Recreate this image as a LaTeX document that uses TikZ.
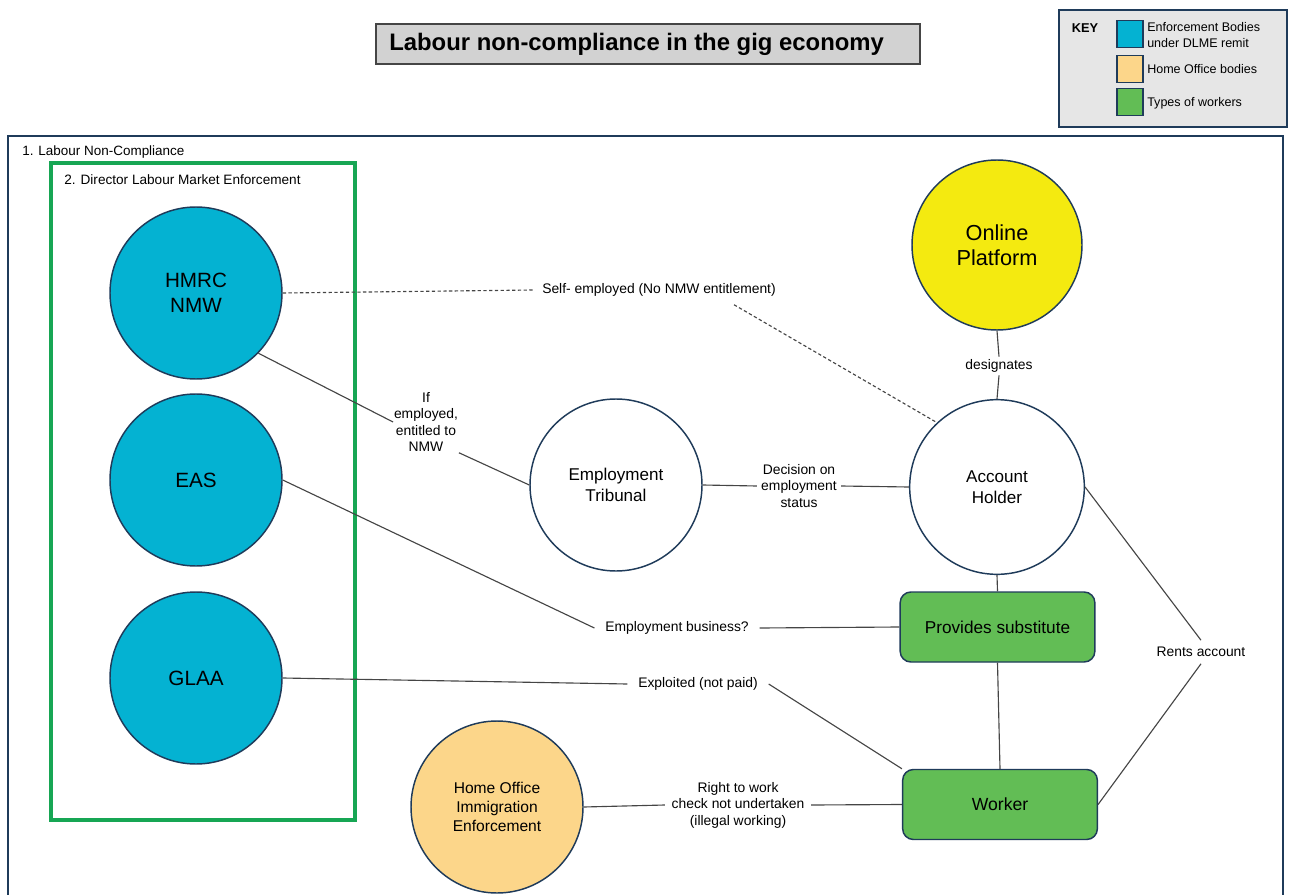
\documentclass[tikz,border=0pt]{standalone}
\usepackage{fontspec}
\setmainfont{Liberation Sans}
\usetikzlibrary{calc}
\definecolor{navy}{HTML}{1F3B5A}
\definecolor{cyanc}{HTML}{04B2D2}
\definecolor{yelc}{HTML}{F4EA10}
\definecolor{orac}{HTML}{FCD68A}
\definecolor{grnc}{HTML}{62BD55}
\definecolor{frameg}{HTML}{17A654}
\definecolor{linegray}{HTML}{454545}
\definecolor{titlegray}{HTML}{D2D2D2}
\definecolor{keygray}{HTML}{E6E6E6}
\begin{document}
\begin{tikzpicture}[x=0.75pt,y=-0.75pt,
  circ/.style={circle, draw=navy, line width=1.1pt, minimum size=129pt, inner sep=0pt, align=center},
  bigtxt/.style={font=\fontsize{15.5}{18.7}\selectfont},
  midtxt/.style={font=\fontsize{12.8}{15.7}\selectfont},
  wbox/.style={rectangle, rounded corners=8pt, draw=navy, line width=1.1pt, fill=grnc, minimum width=146pt, minimum height=52.5pt, align=center},
  lbl/.style={align=center, inner sep=3pt, font=\fontsize{10.4}{12.4}\selectfont},
  conn/.style={draw=linegray, line width=0.85pt},
  dconn/.style={conn, dash pattern=on 2.5pt off 1.8pt},
  swatch/.style={rectangle, draw=navy, line width=1pt, minimum width=19.5pt, minimum height=20pt, inner sep=0pt},
  keytxt/.style={anchor=west, align=left, inner sep=0pt, font=\fontsize{9.4}{12}\selectfont}
]
\useasboundingbox (0,0) rectangle (1289,895);

% title
\node[draw=linegray, line width=0.8pt, fill=titlegray, minimum width=408pt, minimum height=30pt, inner sep=0pt] (titlebox) at (648,44) {};
\node[anchor=west, inner sep=0pt, font=\bfseries\fontsize{17.9}{20}\selectfont] (title) at (389,44) {Labour non-compliance in the gig economy};

% key
\node[draw=navy, line width=1.3pt, fill=keygray, minimum width=171pt, minimum height=87.5pt, inner sep=0pt] (keybox) at (1173,68.5) {};
\node[font=\bfseries\fontsize{9.6}{11}\selectfont, inner sep=0pt] (keylbl) at (1085,28) {KEY};
\node[swatch, fill=cyanc] (k1) at (1130,34) {};
\node[swatch, fill=orac] (k2) at (1130,69) {};
\node[swatch, fill=grnc] (k3) at (1130,102) {};
\node[keytxt] (k1t) at (1147,35) {Enforcement Bodies\\under DLME remit};
\node[keytxt] (k2t) at (1147,69) {Home Office bodies};
\node[keytxt] (k3t) at (1147,103) {Types of workers};

% outer frame
\draw[navy, line width=1.3pt] (8,900) -- (8,136) -- (1283,136) -- (1283,900);
\node[anchor=west, inner sep=0pt, font=\fontsize{10.1}{12}\selectfont] (lnc) at (22,152) {1. Labour Non-Compliance};

% DLME frame
\draw[frameg, line width=3pt] (51,163) rectangle (355,820);
\node[anchor=west, inner sep=0pt, font=\fontsize{10.2}{12}\selectfont] (dlme) at (64,180) {2. Director Labour Market Enforcement};

% circles
\node[circ, fill=cyanc, bigtxt] (hmrc) at (196,293) {HMRC\\NMW};
\node[circ, fill=cyanc, bigtxt] (eas) at (196,480) {EAS};
\node[circ, fill=cyanc, bigtxt] (glaa) at (196,678) {GLAA};
\node[circ, fill=yelc, font=\fontsize{16.3}{18.7}\selectfont, minimum size=127.5pt] (online) at (997,245) {Online\\Platform};
\node[circ, fill=white, midtxt, minimum size=131pt] (ah) at (997,487) {Account\\Holder};
\node[circ, fill=white, midtxt] (trib) at (616,485) {Employment\\Tribunal};
\node[circ, fill=orac, font=\fontsize{11.7}{14.3}\selectfont] (home) at (497,807) {Home Office\\Immigration\\Enforcement};

% boxes
\node[wbox, font=\fontsize{12.9}{14}\selectfont] (subst) at (997.5,627) {Provides substitute};
\node[wbox, font=\fontsize{13.2}{14}\selectfont] (worker) at (1000,804.5) {Worker};

% labels
\node[lbl, inner sep=6pt] (selfemp) at (659,290) {Self- employed (No NMW entitlement)};
\node[lbl, inner sep=0.5pt] (ifemp) at (426,422) {If\\employed,\\entitled to\\NMW};
\node[lbl] (decis) at (799,486) {Decision on\\employment\\status};
\node[lbl, inner sep=2pt] (desig) at (999,366) {designates};
\node[lbl, inner sep=5pt] (rent) at (1201,652) {Rents account};
\node[lbl, inner sep=8pt] (empbus) at (677,628) {Employment business?};
\node[lbl, inner sep=8pt] (exploit) at (698,684) {Exploited (not paid)};
\node[lbl, inner sep=5pt] (rtw) at (738,805) {Right to work\\check not undertaken\\(illegal working)};

% connectors
\draw[dconn] (hmrc.east) -- (selfemp.west);
\draw[dconn] ($(selfemp.south)!0.6!(selfemp.south east)$) -- (ah.133);
\draw[conn] (hmrc.-44) -- (ifemp.west);
\draw[conn] (ifemp.south east) -- (trib.west);
\draw[conn] (trib.east) -- (decis.west);
\draw[conn] (decis.east) -- (ah.west);
\draw[conn] (online.south) -- (desig.north);
\draw[conn] (desig.south) -- (ah.north);
\draw[conn] (ah.south) -- (subst.north);
\draw[conn] (subst.south) -- (worker.north);
\draw[conn] (ah.east) -- (rent.north);
\draw[conn] (rent.south) -- (worker.east);
\draw[conn] (eas.east) -- (empbus.west);
\draw[conn] (empbus.east) -- (subst.west);
\draw[conn] (glaa.east) -- (exploit.west);
\draw[conn] (exploit.east) -- (worker.north west);
\draw[conn] (home.east) -- (rtw.west);
\draw[conn] (rtw.east) -- (worker.west);
\end{tikzpicture}
\end{document}
